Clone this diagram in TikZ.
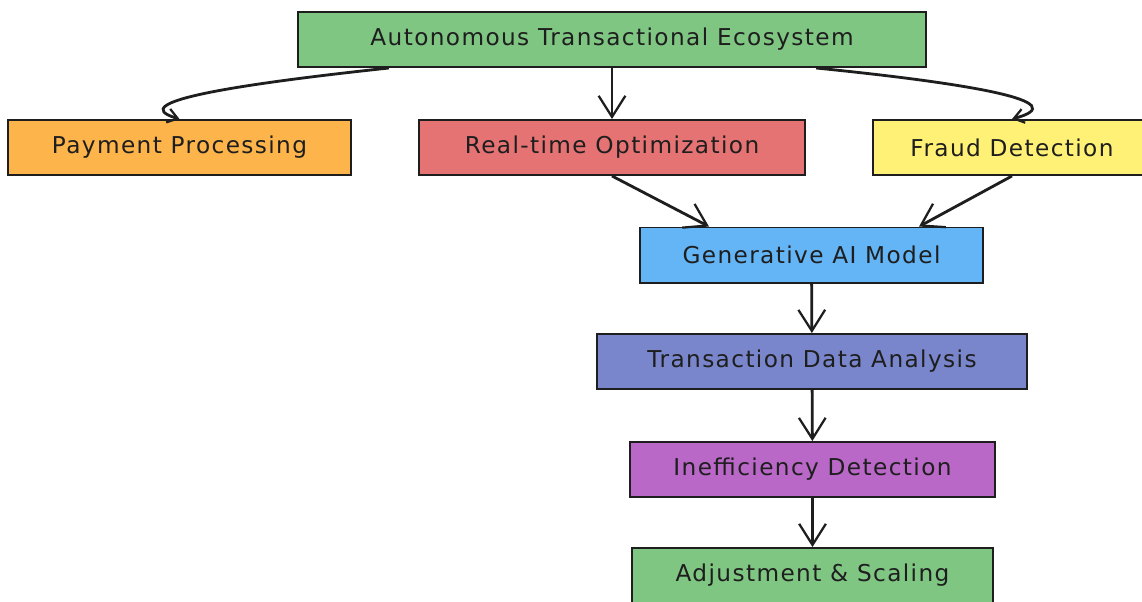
\documentclass[tikz,border=0pt]{standalone}
\usepackage{fontspec}
\setmainfont{DejaVu Sans}
\usepackage{tikz}
\usetikzlibrary{arrows.meta,calc}
\definecolor{ink}{HTML}{1E1E1E}
\definecolor{leaf}{HTML}{80C683}
\definecolor{amber}{HTML}{FDB44B}
\definecolor{coral}{HTML}{E57373}
\definecolor{lemon}{HTML}{FFF176}
\definecolor{sky}{HTML}{64B5F6}
\definecolor{indigo}{HTML}{7986CB}
\definecolor{orchid}{HTML}{BA68C8}
\tikzset{
  box/.style={draw=ink, line width=1.4pt, minimum height=1.375cm, inner sep=0pt,
    text=ink, font=\fontsize{16.5}{19}\selectfont\addfontfeature{LetterSpace=6}},
  arr/.style={draw=ink, line width=2pt, -{Straight Barb[length=15pt, width=19pt, line width=1.6pt]}},
  curvearr/.style={draw=ink, line width=2pt, -{Straight Barb[length=7pt, width=10pt, line width=1.6pt]}},
}

\begin{document}
\begin{tikzpicture}[x=0.025cm, y=-0.025cm]
  \clip (0,0) rectangle (1142,601);
  \fill[white] (0,0) rectangle (1142,601);

  % top level
  \node[box, fill=leaf, minimum width=15.7cm] (eco) at (612,39.5) {Autonomous Transactional Ecosystem};

  % second row
  \node[box, fill=amber, minimum width=8.575cm] (pay) at (179.5,147.5) {Payment Processing};
  \node[box, fill=coral, minimum width=9.65cm] (rto) at (612,147.5) {Real-time Optimization};
  \node[box, fill=lemon, minimum width=6.95cm] (fraud) at (1012,147.5) {Fraud Detection};

  % model chain
  \node[box, fill=sky, minimum width=8.575cm] (gen) at (811.5,255) {Generative AI Model};
  \node[box, fill=indigo, minimum width=10.75cm] (tda) at (812,361.5) {Transaction Data Analysis};
  \node[box, fill=orchid, minimum width=9.125cm] (ineff) at (812.5,469.5) {Inefficiency Detection};
  \node[box, fill=leaf, minimum width=9.025cm] (adj) at (812.5,575.5) {Adjustment \& Scaling};

  % connectors
  \draw[curvearr] ($(eco.south west)+(92,0)$) .. controls (240,84) and (122,102) .. (pay.north);
  \draw[arr] (eco.south) -- (rto.north);
  \draw[curvearr] ($(eco.south east)+(-111,0)$) .. controls (975,84) and (1075,102) .. (fraud.north);
  \draw[arr] (rto.south) -- ($(gen.north west)+(70,0)$);
  \draw[arr] (fraud.south) -- ($(gen.north east)+(-65,0)$);
  \draw[arr] (gen) -- (tda);
  \draw[arr] (tda) -- (ineff);
  \draw[arr] (ineff) -- (adj);
\end{tikzpicture}
\end{document}
